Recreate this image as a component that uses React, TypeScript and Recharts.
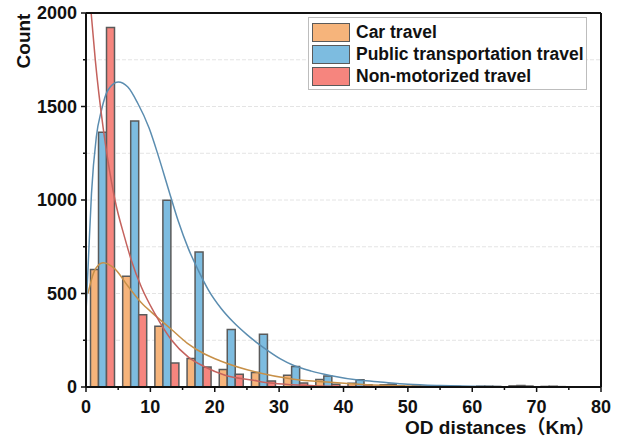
import React from 'react';
import { ComposedChart, Bar, Line, XAxis, YAxis, CartesianGrid, ReferenceLine } from 'recharts';

// histogram bins (5 km wide)
const bins = ['0-5', '5-10', '10-15', '15-20', '20-25', '25-30', '30-35', '35-40', '40-45', '45-50', '50-55', '55-60', '60-65', '65-70', '70-75', '75-80'];
const carCounts = [628, 592, 325, 153, 93, 77, 63, 40, 20, 12, 5, 2, 4, 6, 3, 0];
const publicCounts = [1362, 1422, 998, 722, 308, 282, 110, 59, 39, 15, 5, 3, 4, 8, 4, 0];
const nonMotorCounts = [1922, 387, 128, 107, 68, 32, 21, 15, 12, 6, 3, 1, 3, 5, 2, 0];

// fitted curves
const carCurveKm = [0.3, 1.35, 2.65, 4.45, 6.5, 8.6, 10.5, 13.2, 15.7, 18.5, 21, 27, 32, 38, 43, 50, 60, 70, 80];
const carCurveCount = [499, 624, 665, 633, 540, 450, 390, 310, 235, 175, 138, 75, 43, 25, 14, 6, 2, 1, 0];
const publicCurveKm = [0, 0.4, 0.85, 1.6, 2.4, 3.4, 5, 6.5, 8, 9.8, 11.2, 12.7, 14.3, 15.9, 17.5, 19, 21, 22.8, 25, 27.8, 30.2, 32.2, 35, 37.9, 42.6, 45.7, 50, 55, 60, 65, 70, 80];
const publicCurveCount = [400, 700, 1034, 1337, 1480, 1587, 1631, 1604, 1520, 1385, 1240, 1070, 890, 740, 620, 520, 420, 350, 280, 205, 150, 116, 85, 62, 36, 27, 15, 8, 4, 2, 1, 0];
const nonMotorCurveKm = [0.8, 1.45, 2.65, 3.4, 4.5, 6, 7.05, 8.6, 10.7, 13.3, 15.9, 18.5, 21.6, 26, 28.6, 32, 36, 40, 50, 60, 80];
const nonMotorCurveCount = [2000, 1747, 1390, 1212, 1000, 800, 677, 535, 392, 250, 160, 107, 63, 36, 21, 12, 6, 3, 1, 0, 0];

const yTicks = [0, 250, 500, 750, 1000, 1250, 1500, 1750, 2000];
const xTicks = [0, 5, 10, 15, 20, 25, 30, 35, 40, 45, 50, 55, 60, 65, 70, 75, 80];

const FONT = '"Liberation Sans", Arial, "Noto Sans CJK SC", sans-serif';
const colors = {
  car: '#F6B47B',
  pt: '#7DBCE0',
  nm: '#F6857E',
  carLine: '#C79048',
  ptLine: '#5B8DB0',
  nmLine: '#C4625D',
  edge: '#5a5a5a',
};

const barData = bins.map((bin, i) => ({
  bin,
  car: carCounts[i],
  pt: publicCounts[i],
  nm: nonMotorCounts[i],
}));
const carCurve = carCurveKm.map((x, i) => ({ x, fit: carCurveCount[i] }));
const publicCurve = publicCurveKm.map((x, i) => ({ x, fit: publicCurveCount[i] }));
const nonMotorCurve = nonMotorCurveKm.map((x, i) => ({ x, fit: nonMotorCurveCount[i] }));

const YTick = ({ x, y, payload }: any) => {
  const major = payload.value % 500 === 0;
  return (
    <g>
      <line x1={x} y1={y} x2={x - (major ? 5 : 3)} y2={y} stroke="#111" strokeWidth={1.5} />
      {major && (
        <text x={x - 9} y={y} dy={6} textAnchor="end" fontFamily={FONT} fontWeight="bold" fontSize={18} fill="#111">
          {payload.value}
        </text>
      )}
    </g>
  );
};

const XTick = ({ x, y, payload }: any) => {
  const major = payload.value % 10 === 0;
  return (
    <g>
      <line x1={x} y1={y} x2={x} y2={y + (major ? 5 : 3)} stroke="#111" strokeWidth={1.5} />
      {major && (
        <text x={x} y={y + 26} textAnchor="middle" fontFamily={FONT} fontWeight="bold" fontSize={18} fill="#111">
          {payload.value}
        </text>
      )}
    </g>
  );
};

const legendItems = [
  { name: 'Car travel', color: colors.car },
  { name: 'Public transportation travel', color: colors.pt },
  { name: 'Non-motorized travel', color: colors.nm },
];

export default function App() {
  return (
    <div style={{ position: 'absolute', left: 0, top: 0, width: 618, height: 441, background: '#fff' }}>
      <ComposedChart
        width={618}
        height={441}
        data={barData}
        margin={{ top: 13, right: 17, left: 0, bottom: 0 }}
        barCategoryGap="14%"
        barGap={0}
      >
        <CartesianGrid xAxisId="km" vertical={false} stroke="#e4e4e4" strokeDasharray="4 2" />
        <XAxis xAxisId="bins" dataKey="bin" type="category" orientation="top" height={0} hide />
        <XAxis
          xAxisId="km"
          dataKey="x"
          type="number"
          domain={[0, 80]}
          ticks={xTicks}
          allowDataOverflow
          height={54}
          axisLine={{ stroke: '#111', strokeWidth: 2 }}
          tickLine={false}
          tickSize={0}
          tickMargin={0}
          tick={<XTick />}
          interval={0}
          label={{
            content: () => (
              <text x={405} y={434} fontFamily={FONT} fontWeight="bold" fontSize={19} fill="#111">
                OD distances（Km）
              </text>
            ),
          }}
        />
        <YAxis
          domain={[0, 2000]}
          ticks={yTicks}
          width={86}
          allowDataOverflow
          axisLine={{ stroke: '#111', strokeWidth: 2 }}
          tickLine={false}
          tickSize={0}
          tickMargin={0}
          tick={<YTick />}
          interval={0}
          label={{
            content: () => (
              <text x={30} y={41} transform="rotate(-90 30 41)" textAnchor="middle" fontFamily={FONT} fontWeight="bold" fontSize={19} fill="#111">
                Count
              </text>
            ),
          }}
        />
        <Bar xAxisId="bins" dataKey="car" fill={colors.car} stroke={colors.edge} strokeWidth={1.5} isAnimationActive={false} />
        <Bar xAxisId="bins" dataKey="pt" fill={colors.pt} stroke={colors.edge} strokeWidth={1.5} isAnimationActive={false} />
        <Bar xAxisId="bins" dataKey="nm" fill={colors.nm} stroke={colors.edge} strokeWidth={1.5} isAnimationActive={false} />
        <Line xAxisId="km" data={carCurve} dataKey="fit" type="monotone" stroke={colors.carLine} strokeWidth={1.5} dot={false} isAnimationActive={false} />
        <Line xAxisId="km" data={publicCurve} dataKey="fit" type="monotone" stroke={colors.ptLine} strokeWidth={1.5} dot={false} isAnimationActive={false} />
        <Line xAxisId="km" data={nonMotorCurve} dataKey="fit" type="monotone" stroke={colors.nmLine} strokeWidth={1.5} dot={false} isAnimationActive={false} />
        <ReferenceLine xAxisId="km" y={2000} stroke="#111" strokeWidth={2} />
        <ReferenceLine xAxisId="km" x={80} stroke="#111" strokeWidth={2} />
      </ComposedChart>
      <div
        style={{
          position: 'absolute',
          left: 308,
          top: 17,
          width: 277,
          height: 68,
          border: '1px solid #bdbdbd',
          background: '#fff',
          fontFamily: FONT,
          fontWeight: 'bold',
          fontSize: 17.5,
          color: '#111',
          paddingTop: 3,
          boxSizing: 'content-box',
        }}
      >
        {legendItems.map((item) => (
          <div key={item.name} style={{ display: 'flex', alignItems: 'center', height: 22 }}>
            <div
              style={{
                width: 36,
                height: 17,
                marginLeft: 3,
                marginRight: 6,
                background: item.color,
                border: `1.5px solid ${colors.edge}`,
              }}
            />
            <span style={{ lineHeight: '19px' }}>{item.name}</span>
          </div>
        ))}
      </div>
    </div>
  );
}
